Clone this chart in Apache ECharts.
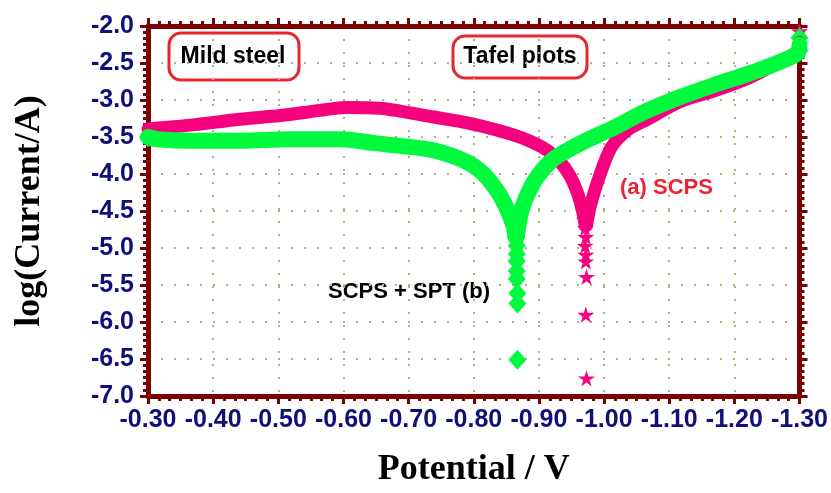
<!DOCTYPE html>
<html>
<head>
<meta charset="utf-8">
<title>Tafel plots</title>
<script src="https://cdn.jsdelivr.net/npm/echarts@6/dist/echarts.min.js"></script>
<style>
  html, body { margin: 0; padding: 0; background: #fff; }
  #chart { width: 831px; height: 493px; }
</style>
</head>
<body>
<div id="chart"></div>
<script>
// axis ranges (potential axis runs from -0.30 to -1.30, left to right)
const xMin = -1.3, xMax = -0.3, xStep = 0.1;
const yMin = -7.0, yMax = -2.0, yStep = 0.5;

// (a) SCPS - [potential V, log(I/A)]
const scpsAnodic = [
  [-0.300, -3.39], [-0.365, -3.34], [-0.441, -3.26], [-0.503, -3.21], [-0.564, -3.14],
  [-0.603, -3.10], [-0.656, -3.11], [-0.687, -3.15], [-0.738, -3.23], [-0.790, -3.31],
  [-0.841, -3.42], [-0.882, -3.54], [-0.913, -3.68], [-0.933, -3.84], [-0.948, -4.03],
  [-0.959, -4.25], [-0.967, -4.50], [-0.971, -4.70]
];
const scpsCathodic = [
  [-0.973, -4.70], [-0.979, -4.43], [-0.991, -4.08], [-1.011, -3.64], [-1.037, -3.40],
  [-1.067, -3.26], [-1.117, -3.02], [-1.168, -2.88], [-1.220, -2.71], [-1.271, -2.48],
  [-1.297, -2.34], [-1.300, -2.22]
];
const scpsStars = [
  [-0.968, -4.50], [-0.970, -4.62], [-0.971, -4.73], [-0.972, -4.85], [-0.971, -4.97],
  [-0.972, -5.09], [-0.972, -5.18], [-0.973, -5.39], [-0.972, -5.90], [-0.973, -6.76],
  [-1.300, -2.07]
];

// (b) SCPS + SPT
const sptAnodic = [
  [-0.300, -3.50], [-0.314, -3.53], [-0.365, -3.55], [-0.441, -3.55], [-0.518, -3.53],
  [-0.595, -3.53], [-0.646, -3.58], [-0.687, -3.62], [-0.738, -3.68], [-0.790, -3.84],
  [-0.815, -4.00], [-0.836, -4.23], [-0.851, -4.47], [-0.861, -4.70], [-0.864, -4.85]
];
const sptCathodic = [
  [-0.866, -4.85], [-0.873, -4.50], [-0.884, -4.25], [-0.898, -4.03], [-0.922, -3.80],
  [-0.948, -3.66], [-0.979, -3.52], [-1.014, -3.38], [-1.060, -3.17], [-1.117, -2.96],
  [-1.168, -2.80], [-1.220, -2.65], [-1.271, -2.48], [-1.297, -2.37], [-1.300, -2.25]
];
const sptDiamonds = [
  [-0.300, -3.50], [-0.865, -4.60], [-0.865, -4.72], [-0.865, -4.85], [-0.866, -4.97],
  [-0.866, -5.08], [-0.866, -5.18], [-0.866, -5.31], [-0.866, -5.42], [-0.867, -5.61],
  [-0.867, -5.75], [-0.867, -6.51], [-1.300, -2.16], [-1.300, -2.33]
];

const frameColor = '#7b0000';
const labelColor = '#0f0f7c';
const gridColor = '#a9b57c';
const pink = '#f5007f';
const green = '#00fa3e';
const starPath = 'path://M50,0 L61,35 L98,35 L68,57 L79,91 L50,70 L21,91 L32,57 L2,35 L39,35 Z';

const tickLabel = {
  color: labelColor,
  fontFamily: 'Liberation Sans',
  fontWeight: 'bold',
  fontSize: 25
};
const titleFont = {
  color: '#000',
  fontFamily: 'Liberation Serif',
  fontWeight: 'bold',
  fontSize: 36
};

// thick dark red frame with outward ticks on every side
function frame(extra) {
  return Object.assign({
    type: 'value',
    axisLine: { show: true, onZero: false, lineStyle: { color: frameColor, width: 5 } },
    axisTick: { show: true, length: 8, lineStyle: { color: frameColor, width: 3 } },
    minorTick: { show: true, length: 5, lineStyle: { color: frameColor, width: 3 } },
    splitLine: { show: false },
    axisLabel: { show: false }
  }, extra);
}

const myChart = echarts.init(document.getElementById('chart'));

const options = {
  animation: false,
  grid: { left: 148, right: 31, top: 26, bottom: 88 },
  xAxis: [
    frame({
      position: 'bottom', min: xMin, max: xMax, interval: xStep, inverse: true,
      minorTick: { show: true, splitNumber: 6, length: 5, lineStyle: { color: frameColor, width: 3 } },
      axisLabel: Object.assign({ show: true, margin: 12, formatter: v => v.toFixed(2) }, tickLabel),
      splitLine: { show: true, lineStyle: { color: gridColor, width: 2, type: [2, 11] } },
      name: 'Potential / V', nameLocation: 'middle', nameGap: 56, nameTextStyle: titleFont
    }),
    frame({
      position: 'top', min: xMin, max: xMax, interval: xStep, inverse: true,
      minorTick: { show: true, splitNumber: 6, length: 5, lineStyle: { color: frameColor, width: 3 } }
    })
  ],
  yAxis: [
    frame({
      position: 'left', min: yMin, max: yMax, interval: yStep,
      minorTick: { show: true, splitNumber: 6, length: 5, lineStyle: { color: frameColor, width: 3 } },
      axisLabel: Object.assign({ show: true, margin: 14, formatter: v => v.toFixed(1) }, tickLabel),
      splitLine: { show: true, lineStyle: { color: gridColor, width: 2, type: [2, 11] } },
      name: 'log(Current/A)', nameLocation: 'middle', nameGap: 100, nameTextStyle: titleFont
    }),
    frame({
      position: 'right', min: yMin, max: yMax, interval: yStep,
      minorTick: { show: true, splitNumber: 6, length: 5, lineStyle: { color: frameColor, width: 3 } }
    })
  ],
  series: [
    {
      type: 'line', data: scpsAnodic, smooth: 0.3, symbol: 'none',
      lineStyle: { color: pink, width: 13, cap: 'round', join: 'round' }
    },
    {
      type: 'line', data: scpsCathodic, smooth: 0.3, symbol: 'none',
      lineStyle: { color: pink, width: 13, cap: 'round', join: 'round' }
    },
    {
      type: 'scatter', data: scpsStars, symbol: starPath, symbolSize: 17, symbolKeepAspect: true,
      clip: false, itemStyle: { color: pink, opacity: 1 }
    },
    {
      type: 'line', data: sptAnodic, smooth: 0.3, symbol: 'none',
      lineStyle: { color: green, width: 16, cap: 'round', join: 'round' }
    },
    {
      type: 'line', data: sptCathodic, smooth: 0.3, symbol: 'none',
      lineStyle: { color: green, width: 16, cap: 'round', join: 'round' }
    },
    {
      type: 'scatter', data: sptDiamonds, symbol: 'diamond', symbolSize: [18, 20],
      clip: false, itemStyle: { color: green, opacity: 1 }
    }
  ],
  graphic: [
    {
      type: 'rect', shape: { x: 169, y: 33, width: 130, height: 47, r: 12 },
      style: { fill: '#fff', stroke: '#e8262d', lineWidth: 3 }
    },
    {
      type: 'text', x: 233, y: 57,
      style: { text: 'Mild steel', font: 'bold 23px "Liberation Sans"', fill: '#000',
               align: 'center', verticalAlign: 'middle', textAlign: 'center', textVerticalAlign: 'middle' }
    },
    {
      type: 'rect', shape: { x: 453, y: 36, width: 134, height: 42, r: 12 },
      style: { fill: '#fff', stroke: '#e8262d', lineWidth: 3 }
    },
    {
      type: 'text', x: 520, y: 57,
      style: { text: 'Tafel plots', font: 'bold 23px "Liberation Sans"', fill: '#000',
               align: 'center', verticalAlign: 'middle', textAlign: 'center', textVerticalAlign: 'middle' }
    },
    {
      type: 'text', x: 620, y: 188,
      style: { text: '(a) SCPS', font: 'bold 22px "Liberation Sans"', fill: '#ec2434',
               align: 'left', verticalAlign: 'middle', textAlign: 'left', textVerticalAlign: 'middle' }
    },
    {
      type: 'text', x: 328, y: 292,
      style: { text: 'SCPS + SPT (b)', font: 'bold 22px "Liberation Sans"', fill: '#000',
               align: 'left', verticalAlign: 'middle', textAlign: 'left', textVerticalAlign: 'middle' }
    }
  ]
};

myChart.setOption(options);
</script>
</body>
</html>
